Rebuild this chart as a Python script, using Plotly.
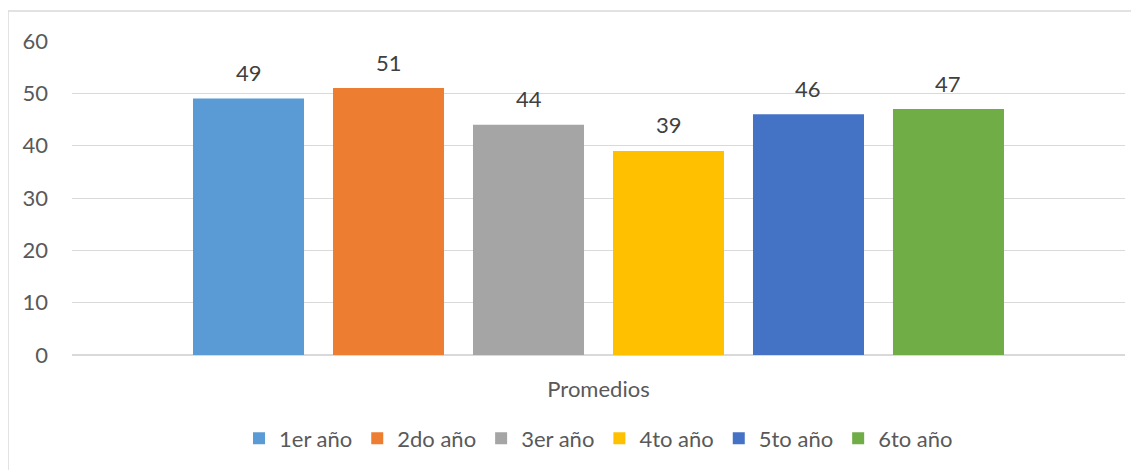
import plotly.graph_objects as go

categories = ["Promedios"]
series_names = ["1er año", "2do año", "3er año", "4to año", "5to año", "6to año"]
series_values = [49, 51, 44, 39, 46, 47]
colors = ["#5B9BD5", "#ED7D31", "#A5A5A5", "#FFC000", "#4472C4", "#70AD47"]
y_ticks = [0, 10, 20, 30, 40, 50, 60]

FONT = "Lato"
TXT = "#595959"
bargap = 0.2023
bargroupgap = 0.207

fig = go.Figure()
for name, val, col in zip(series_names, series_values, colors):
    fig.add_trace(go.Bar(
        x=categories, y=[val], name=name,
        marker=dict(color=col, line=dict(width=0)),
    ))

n = len(series_names)
group_w = 1 - bargap
slot = group_w / n
for i, val in enumerate(series_values):
    xc = -group_w / 2 + slot * (i + 0.5)
    fig.add_annotation(
        x=xc, y=val, xref="x", yref="y", text=str(val),
        showarrow=False, yanchor="middle", yshift=26,
        font=dict(family=FONT, size=22, color="#404040"),
    )

# outer chart border
fig.add_shape(type="rect", xref="paper", yref="paper",
              x0=-0.0608, x1=1.2, y0=-0.7, y1=1.0952,
              line=dict(color="#d9d9d9", width=1.5), fillcolor="rgba(0,0,0,0)",
              layer="below")

fig.update_layout(
    width=1131, height=462,
    margin=dict(l=64, r=14, t=33, b=114),
    paper_bgcolor="white", plot_bgcolor="white",
    barmode="group", bargap=bargap, bargroupgap=bargroupgap,
    font=dict(family=FONT, size=22, color=TXT),
    showlegend=True,
    legend=dict(orientation="h", x=0.5, xanchor="center", y=-0.262, yanchor="middle",
                font=dict(family=FONT, size=22, color=TXT), traceorder="normal"),
    xaxis=dict(type="category", showgrid=False, showline=False, ticks="",
               ticklabelstandoff=19, tickfont=dict(family=FONT, size=22, color=TXT)),
    yaxis=dict(range=[0, 60], tickvals=y_ticks, showgrid=True, gridcolor="#d9d9d9",
               gridwidth=1.3, zeroline=True, zerolinecolor="#d9d9d9", zerolinewidth=1.6,
               showline=False, ticks="", ticklabelstandoff=23,
               tickfont=dict(family=FONT, size=22, color=TXT)),
)

fig.write_html("out.html")
